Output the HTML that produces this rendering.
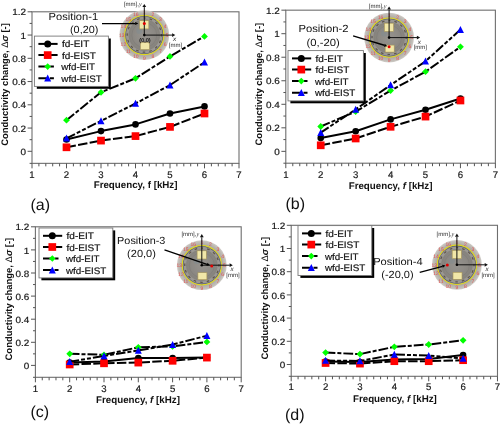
<!DOCTYPE html>
<html><head><meta charset="utf-8"><style>
html,body{margin:0;padding:0;background:#fff;}
svg{display:block;filter:blur(0.3px);}
text{font-family:"Liberation Sans", sans-serif;text-rendering:geometricPrecision;}
.s{stroke:#1a1a1a;stroke-width:0.2px;}
</style></head><body>
<svg width="501" height="425" viewBox="0 0 501 425" font-family='"Liberation Sans", sans-serif'>
<defs>
<radialGradient id="gOuter" cx="0.5" cy="0.5" r="0.5"><stop offset="0.78" stop-color="#a8a49e"/><stop offset="0.84" stop-color="#b3afa9"/><stop offset="0.94" stop-color="#c2beb8"/><stop offset="1" stop-color="#cfccc7"/></radialGradient>
<radialGradient id="gInner" cx="0.5" cy="0.5" r="0.5"><stop offset="0" stop-color="#96938e"/><stop offset="0.6" stop-color="#8d8a85"/><stop offset="1" stop-color="#85827c"/></radialGradient>
</defs>
<rect width="501" height="425" fill="#fff"/>
<rect x="32.00" y="11.80" width="207.00" height="151.55" fill="none" stroke="#6e6e6e" stroke-width="1.1"/>
<line x1="29.60" y1="163.35" x2="32.00" y2="163.35" stroke="#555" stroke-width="1"/>
<line x1="27.60" y1="151.30" x2="32.00" y2="151.30" stroke="#555" stroke-width="1"/>
<line x1="29.60" y1="139.68" x2="32.00" y2="139.68" stroke="#555" stroke-width="1"/>
<line x1="27.60" y1="128.05" x2="32.00" y2="128.05" stroke="#555" stroke-width="1"/>
<line x1="29.60" y1="116.43" x2="32.00" y2="116.43" stroke="#555" stroke-width="1"/>
<line x1="27.60" y1="104.80" x2="32.00" y2="104.80" stroke="#555" stroke-width="1"/>
<line x1="29.60" y1="93.18" x2="32.00" y2="93.18" stroke="#555" stroke-width="1"/>
<line x1="27.60" y1="81.55" x2="32.00" y2="81.55" stroke="#555" stroke-width="1"/>
<line x1="29.60" y1="69.93" x2="32.00" y2="69.93" stroke="#555" stroke-width="1"/>
<line x1="27.60" y1="58.30" x2="32.00" y2="58.30" stroke="#555" stroke-width="1"/>
<line x1="29.60" y1="46.68" x2="32.00" y2="46.68" stroke="#555" stroke-width="1"/>
<line x1="27.60" y1="35.05" x2="32.00" y2="35.05" stroke="#555" stroke-width="1"/>
<line x1="29.60" y1="23.42" x2="32.00" y2="23.42" stroke="#555" stroke-width="1"/>
<line x1="27.60" y1="11.80" x2="32.00" y2="11.80" stroke="#555" stroke-width="1"/>
<text x="26.00" y="154.95" font-size="9.1" fill="#1a1a1a" class="s" text-anchor="end" textLength="5.51" lengthAdjust="spacingAndGlyphs">0</text>
<text x="26.00" y="131.70" font-size="9.1" fill="#1a1a1a" class="s" text-anchor="end" textLength="13.79" lengthAdjust="spacingAndGlyphs">0.2</text>
<text x="26.00" y="108.45" font-size="9.1" fill="#1a1a1a" class="s" text-anchor="end" textLength="13.79" lengthAdjust="spacingAndGlyphs">0.4</text>
<text x="26.00" y="85.20" font-size="9.1" fill="#1a1a1a" class="s" text-anchor="end" textLength="13.79" lengthAdjust="spacingAndGlyphs">0.6</text>
<text x="26.00" y="61.95" font-size="9.1" fill="#1a1a1a" class="s" text-anchor="end" textLength="13.79" lengthAdjust="spacingAndGlyphs">0.8</text>
<text x="26.00" y="38.70" font-size="9.1" fill="#1a1a1a" class="s" text-anchor="end" textLength="5.51" lengthAdjust="spacingAndGlyphs">1</text>
<text x="26.00" y="15.45" font-size="9.1" fill="#1a1a1a" class="s" text-anchor="end" textLength="13.79" lengthAdjust="spacingAndGlyphs">1.2</text>
<line x1="32.00" y1="163.35" x2="32.00" y2="168.35" stroke="#555" stroke-width="1"/>
<line x1="38.90" y1="163.35" x2="38.90" y2="166.35" stroke="#555" stroke-width="1"/>
<line x1="45.80" y1="163.35" x2="45.80" y2="166.35" stroke="#555" stroke-width="1"/>
<line x1="52.70" y1="163.35" x2="52.70" y2="166.35" stroke="#555" stroke-width="1"/>
<line x1="59.60" y1="163.35" x2="59.60" y2="166.35" stroke="#555" stroke-width="1"/>
<line x1="66.50" y1="163.35" x2="66.50" y2="168.35" stroke="#555" stroke-width="1"/>
<line x1="73.40" y1="163.35" x2="73.40" y2="166.35" stroke="#555" stroke-width="1"/>
<line x1="80.30" y1="163.35" x2="80.30" y2="166.35" stroke="#555" stroke-width="1"/>
<line x1="87.20" y1="163.35" x2="87.20" y2="166.35" stroke="#555" stroke-width="1"/>
<line x1="94.10" y1="163.35" x2="94.10" y2="166.35" stroke="#555" stroke-width="1"/>
<line x1="101.00" y1="163.35" x2="101.00" y2="168.35" stroke="#555" stroke-width="1"/>
<line x1="107.90" y1="163.35" x2="107.90" y2="166.35" stroke="#555" stroke-width="1"/>
<line x1="114.80" y1="163.35" x2="114.80" y2="166.35" stroke="#555" stroke-width="1"/>
<line x1="121.70" y1="163.35" x2="121.70" y2="166.35" stroke="#555" stroke-width="1"/>
<line x1="128.60" y1="163.35" x2="128.60" y2="166.35" stroke="#555" stroke-width="1"/>
<line x1="135.50" y1="163.35" x2="135.50" y2="168.35" stroke="#555" stroke-width="1"/>
<line x1="142.40" y1="163.35" x2="142.40" y2="166.35" stroke="#555" stroke-width="1"/>
<line x1="149.30" y1="163.35" x2="149.30" y2="166.35" stroke="#555" stroke-width="1"/>
<line x1="156.20" y1="163.35" x2="156.20" y2="166.35" stroke="#555" stroke-width="1"/>
<line x1="163.10" y1="163.35" x2="163.10" y2="166.35" stroke="#555" stroke-width="1"/>
<line x1="170.00" y1="163.35" x2="170.00" y2="168.35" stroke="#555" stroke-width="1"/>
<line x1="176.90" y1="163.35" x2="176.90" y2="166.35" stroke="#555" stroke-width="1"/>
<line x1="183.80" y1="163.35" x2="183.80" y2="166.35" stroke="#555" stroke-width="1"/>
<line x1="190.70" y1="163.35" x2="190.70" y2="166.35" stroke="#555" stroke-width="1"/>
<line x1="197.60" y1="163.35" x2="197.60" y2="166.35" stroke="#555" stroke-width="1"/>
<line x1="204.50" y1="163.35" x2="204.50" y2="168.35" stroke="#555" stroke-width="1"/>
<line x1="211.40" y1="163.35" x2="211.40" y2="166.35" stroke="#555" stroke-width="1"/>
<line x1="218.30" y1="163.35" x2="218.30" y2="166.35" stroke="#555" stroke-width="1"/>
<line x1="225.20" y1="163.35" x2="225.20" y2="166.35" stroke="#555" stroke-width="1"/>
<line x1="232.10" y1="163.35" x2="232.10" y2="166.35" stroke="#555" stroke-width="1"/>
<line x1="239.00" y1="163.35" x2="239.00" y2="168.35" stroke="#555" stroke-width="1"/>
<text x="32.00" y="177.80" font-size="9.6" fill="#1a1a1a" class="s" text-anchor="middle">1</text>
<text x="66.50" y="177.80" font-size="9.6" fill="#1a1a1a" class="s" text-anchor="middle">2</text>
<text x="101.00" y="177.80" font-size="9.6" fill="#1a1a1a" class="s" text-anchor="middle">3</text>
<text x="135.50" y="177.80" font-size="9.6" fill="#1a1a1a" class="s" text-anchor="middle">4</text>
<text x="170.00" y="177.80" font-size="9.6" fill="#1a1a1a" class="s" text-anchor="middle">5</text>
<text x="204.50" y="177.80" font-size="9.6" fill="#1a1a1a" class="s" text-anchor="middle">6</text>
<text x="239.00" y="177.80" font-size="9.6" fill="#1a1a1a" class="s" text-anchor="middle">7</text>
<text x="135.60" y="188.20" font-size="9.75" font-weight="bold" fill="#111" text-anchor="middle">Frequency, <tspan font-style="normal">f</tspan> [kHz]</text>
<text transform="translate(4.90,84.50) rotate(-90)" x="0" y="3.4" font-size="9.45" font-weight="bold" fill="#111" text-anchor="middle">Conductivity change, <tspan font-weight="normal">Δ</tspan><tspan font-style="italic">σ</tspan> [-]</text>
<text x="30.5" y="209.5" font-size="16" fill="#111">(a)</text>
<polyline points="66.50,139.50 101.00,131.10 135.50,124.40 170.00,113.50 204.50,106.40" fill="none" stroke="#000" stroke-width="2.0" stroke-linejoin="round"/>
<circle cx="66.50" cy="139.50" r="3.3" fill="#000"/>
<circle cx="101.00" cy="131.10" r="3.3" fill="#000"/>
<circle cx="135.50" cy="124.40" r="3.3" fill="#000"/>
<circle cx="170.00" cy="113.50" r="3.3" fill="#000"/>
<circle cx="204.50" cy="106.40" r="3.3" fill="#000"/>
<polyline points="66.50,147.30 101.00,140.60 135.50,136.10 170.00,126.90 204.50,113.50" fill="none" stroke="#000" stroke-width="2.0" stroke-linejoin="round" stroke-dasharray="9.5 2.3"/>
<rect x="62.65" y="143.45" width="7.7" height="7.7" fill="#ff0000"/>
<rect x="97.15" y="136.75" width="7.7" height="7.7" fill="#ff0000"/>
<rect x="131.65" y="132.25" width="7.7" height="7.7" fill="#ff0000"/>
<rect x="166.15" y="123.05" width="7.7" height="7.7" fill="#ff0000"/>
<rect x="200.65" y="109.65" width="7.7" height="7.7" fill="#ff0000"/>
<polyline points="66.50,120.20 101.00,92.30 135.50,78.30 170.00,56.40 204.50,36.40" fill="none" stroke="#000" stroke-width="2.0" stroke-linejoin="round" stroke-dasharray="9.8 2 4 2"/>
<polygon points="66.50,116.80 69.90,120.20 66.50,123.60 63.10,120.20" fill="#00ff00"/>
<polygon points="101.00,88.90 104.40,92.30 101.00,95.70 97.60,92.30" fill="#00ff00"/>
<polygon points="135.50,74.90 138.90,78.30 135.50,81.70 132.10,78.30" fill="#00ff00"/>
<polygon points="170.00,53.00 173.40,56.40 170.00,59.80 166.60,56.40" fill="#00ff00"/>
<polygon points="204.50,33.00 207.90,36.40 204.50,39.80 201.10,36.40" fill="#00ff00"/>
<polyline points="66.50,138.30 101.00,120.90 135.50,103.50 170.00,85.10 204.50,62.30" fill="none" stroke="#000" stroke-width="2.0" stroke-linejoin="round" stroke-dasharray="9.5 2 4 2 4 2"/>
<polygon points="66.50,134.60 70.00,141.60 63.00,141.60" fill="#0000ff"/>
<polygon points="101.00,117.20 104.50,124.20 97.50,124.20" fill="#0000ff"/>
<polygon points="135.50,99.80 139.00,106.80 132.00,106.80" fill="#0000ff"/>
<polygon points="170.00,81.40 173.50,88.40 166.50,88.40" fill="#0000ff"/>
<polygon points="204.50,58.60 208.00,65.60 201.00,65.60" fill="#0000ff"/>
<rect x="36.80" y="38.50" width="74.00" height="50.30" fill="#000"/>
<rect x="34.40" y="36.10" width="74.00" height="50.30" fill="#fff" stroke="#777" stroke-width="0.9"/>
<line x1="38.40" y1="43.90" x2="57.60" y2="43.90" stroke="#000" stroke-width="2.0"/>
<circle cx="47.70" cy="43.90" r="3.5" fill="#000"/>
<text x="61.90" y="47.40" font-size="9.4" fill="#111" class="s" textLength="27.4" lengthAdjust="spacingAndGlyphs">fd-EIT</text>
<line x1="38.40" y1="55.10" x2="57.60" y2="55.10" stroke="#000" stroke-width="2.0" stroke-dasharray="9.5 2.3"/>
<rect x="43.85" y="51.25" width="7.7" height="7.7" fill="#ff0000"/>
<text x="61.90" y="58.60" font-size="9.4" fill="#111" class="s" textLength="33.9" lengthAdjust="spacingAndGlyphs">fd-EIST</text>
<line x1="38.40" y1="66.60" x2="53.90" y2="66.60" stroke="#000" stroke-width="2.0" stroke-dasharray="9.8 2 4 2"/>
<polygon points="47.70,63.30 51.00,66.60 47.70,69.90 44.40,66.60" fill="#00ff00"/>
<text x="61.30" y="70.10" font-size="9.4" fill="#111" class="s" textLength="33.7" lengthAdjust="spacingAndGlyphs">wfd-EIT</text>
<line x1="38.40" y1="78.20" x2="53.90" y2="78.20" stroke="#000" stroke-width="2.0" stroke-dasharray="9.5 2 4 2 4 2"/>
<polygon points="47.70,74.50 51.20,81.50 44.20,81.50" fill="#0000ff"/>
<text x="61.30" y="81.70" font-size="9.4" fill="#111" class="s" textLength="40.4" lengthAdjust="spacingAndGlyphs">wfd-EIST</text>
<rect x="285.80" y="10.17" width="209.58" height="153.03" fill="none" stroke="#6e6e6e" stroke-width="1.1"/>
<line x1="283.40" y1="163.20" x2="285.80" y2="163.20" stroke="#555" stroke-width="1"/>
<line x1="281.40" y1="151.35" x2="285.80" y2="151.35" stroke="#555" stroke-width="1"/>
<line x1="283.40" y1="139.58" x2="285.80" y2="139.58" stroke="#555" stroke-width="1"/>
<line x1="281.40" y1="127.82" x2="285.80" y2="127.82" stroke="#555" stroke-width="1"/>
<line x1="283.40" y1="116.05" x2="285.80" y2="116.05" stroke="#555" stroke-width="1"/>
<line x1="281.40" y1="104.29" x2="285.80" y2="104.29" stroke="#555" stroke-width="1"/>
<line x1="283.40" y1="92.52" x2="285.80" y2="92.52" stroke="#555" stroke-width="1"/>
<line x1="281.40" y1="80.76" x2="285.80" y2="80.76" stroke="#555" stroke-width="1"/>
<line x1="283.40" y1="68.99" x2="285.80" y2="68.99" stroke="#555" stroke-width="1"/>
<line x1="281.40" y1="57.23" x2="285.80" y2="57.23" stroke="#555" stroke-width="1"/>
<line x1="283.40" y1="45.46" x2="285.80" y2="45.46" stroke="#555" stroke-width="1"/>
<line x1="281.40" y1="33.70" x2="285.80" y2="33.70" stroke="#555" stroke-width="1"/>
<line x1="283.40" y1="21.93" x2="285.80" y2="21.93" stroke="#555" stroke-width="1"/>
<line x1="281.40" y1="10.17" x2="285.80" y2="10.17" stroke="#555" stroke-width="1"/>
<text x="279.80" y="155.00" font-size="9.1" fill="#1a1a1a" class="s" text-anchor="end" textLength="5.51" lengthAdjust="spacingAndGlyphs">0</text>
<text x="279.80" y="131.47" font-size="9.1" fill="#1a1a1a" class="s" text-anchor="end" textLength="13.79" lengthAdjust="spacingAndGlyphs">0.2</text>
<text x="279.80" y="107.94" font-size="9.1" fill="#1a1a1a" class="s" text-anchor="end" textLength="13.79" lengthAdjust="spacingAndGlyphs">0.4</text>
<text x="279.80" y="84.41" font-size="9.1" fill="#1a1a1a" class="s" text-anchor="end" textLength="13.79" lengthAdjust="spacingAndGlyphs">0.6</text>
<text x="279.80" y="60.88" font-size="9.1" fill="#1a1a1a" class="s" text-anchor="end" textLength="13.79" lengthAdjust="spacingAndGlyphs">0.8</text>
<text x="279.80" y="37.35" font-size="9.1" fill="#1a1a1a" class="s" text-anchor="end" textLength="5.51" lengthAdjust="spacingAndGlyphs">1</text>
<text x="279.80" y="13.82" font-size="9.1" fill="#1a1a1a" class="s" text-anchor="end" textLength="13.79" lengthAdjust="spacingAndGlyphs">1.2</text>
<line x1="285.80" y1="163.20" x2="285.80" y2="168.20" stroke="#555" stroke-width="1"/>
<line x1="292.79" y1="163.20" x2="292.79" y2="166.20" stroke="#555" stroke-width="1"/>
<line x1="299.77" y1="163.20" x2="299.77" y2="166.20" stroke="#555" stroke-width="1"/>
<line x1="306.76" y1="163.20" x2="306.76" y2="166.20" stroke="#555" stroke-width="1"/>
<line x1="313.74" y1="163.20" x2="313.74" y2="166.20" stroke="#555" stroke-width="1"/>
<line x1="320.73" y1="163.20" x2="320.73" y2="168.20" stroke="#555" stroke-width="1"/>
<line x1="327.72" y1="163.20" x2="327.72" y2="166.20" stroke="#555" stroke-width="1"/>
<line x1="334.70" y1="163.20" x2="334.70" y2="166.20" stroke="#555" stroke-width="1"/>
<line x1="341.69" y1="163.20" x2="341.69" y2="166.20" stroke="#555" stroke-width="1"/>
<line x1="348.67" y1="163.20" x2="348.67" y2="166.20" stroke="#555" stroke-width="1"/>
<line x1="355.66" y1="163.20" x2="355.66" y2="168.20" stroke="#555" stroke-width="1"/>
<line x1="362.65" y1="163.20" x2="362.65" y2="166.20" stroke="#555" stroke-width="1"/>
<line x1="369.63" y1="163.20" x2="369.63" y2="166.20" stroke="#555" stroke-width="1"/>
<line x1="376.62" y1="163.20" x2="376.62" y2="166.20" stroke="#555" stroke-width="1"/>
<line x1="383.60" y1="163.20" x2="383.60" y2="166.20" stroke="#555" stroke-width="1"/>
<line x1="390.59" y1="163.20" x2="390.59" y2="168.20" stroke="#555" stroke-width="1"/>
<line x1="397.58" y1="163.20" x2="397.58" y2="166.20" stroke="#555" stroke-width="1"/>
<line x1="404.56" y1="163.20" x2="404.56" y2="166.20" stroke="#555" stroke-width="1"/>
<line x1="411.55" y1="163.20" x2="411.55" y2="166.20" stroke="#555" stroke-width="1"/>
<line x1="418.53" y1="163.20" x2="418.53" y2="166.20" stroke="#555" stroke-width="1"/>
<line x1="425.52" y1="163.20" x2="425.52" y2="168.20" stroke="#555" stroke-width="1"/>
<line x1="432.51" y1="163.20" x2="432.51" y2="166.20" stroke="#555" stroke-width="1"/>
<line x1="439.49" y1="163.20" x2="439.49" y2="166.20" stroke="#555" stroke-width="1"/>
<line x1="446.48" y1="163.20" x2="446.48" y2="166.20" stroke="#555" stroke-width="1"/>
<line x1="453.46" y1="163.20" x2="453.46" y2="166.20" stroke="#555" stroke-width="1"/>
<line x1="460.45" y1="163.20" x2="460.45" y2="168.20" stroke="#555" stroke-width="1"/>
<line x1="467.44" y1="163.20" x2="467.44" y2="166.20" stroke="#555" stroke-width="1"/>
<line x1="474.42" y1="163.20" x2="474.42" y2="166.20" stroke="#555" stroke-width="1"/>
<line x1="481.41" y1="163.20" x2="481.41" y2="166.20" stroke="#555" stroke-width="1"/>
<line x1="488.39" y1="163.20" x2="488.39" y2="166.20" stroke="#555" stroke-width="1"/>
<line x1="495.38" y1="163.20" x2="495.38" y2="168.20" stroke="#555" stroke-width="1"/>
<text x="285.80" y="177.80" font-size="9.6" fill="#1a1a1a" class="s" text-anchor="middle">1</text>
<text x="320.73" y="177.80" font-size="9.6" fill="#1a1a1a" class="s" text-anchor="middle">2</text>
<text x="355.66" y="177.80" font-size="9.6" fill="#1a1a1a" class="s" text-anchor="middle">3</text>
<text x="390.59" y="177.80" font-size="9.6" fill="#1a1a1a" class="s" text-anchor="middle">4</text>
<text x="425.52" y="177.80" font-size="9.6" fill="#1a1a1a" class="s" text-anchor="middle">5</text>
<text x="460.45" y="177.80" font-size="9.6" fill="#1a1a1a" class="s" text-anchor="middle">6</text>
<text x="495.38" y="177.80" font-size="9.6" fill="#1a1a1a" class="s" text-anchor="middle">7</text>
<text x="390.60" y="189.10" font-size="9.75" font-weight="bold" fill="#111" text-anchor="middle">Frequency, <tspan font-style="italic">f</tspan> [kHz]</text>
<text transform="translate(258.30,84.10) rotate(-90)" x="0" y="3.4" font-size="9.45" font-weight="bold" fill="#111" text-anchor="middle">Conductivity change, <tspan font-weight="normal">Δ</tspan><tspan font-style="italic">σ</tspan> [-]</text>
<text x="285.5" y="209.0" font-size="16" fill="#111">(b)</text>
<polyline points="320.73,138.10 355.66,131.30 390.59,119.40 425.52,109.80 460.45,98.50" fill="none" stroke="#000" stroke-width="2.0" stroke-linejoin="round"/>
<circle cx="320.73" cy="138.10" r="3.3" fill="#000"/>
<circle cx="355.66" cy="131.30" r="3.3" fill="#000"/>
<circle cx="390.59" cy="119.40" r="3.3" fill="#000"/>
<circle cx="425.52" cy="109.80" r="3.3" fill="#000"/>
<circle cx="460.45" cy="98.50" r="3.3" fill="#000"/>
<polyline points="320.73,145.30 355.66,138.50 390.59,126.80 425.52,116.60 460.45,100.50" fill="none" stroke="#000" stroke-width="2.0" stroke-linejoin="round" stroke-dasharray="9.5 2.3"/>
<rect x="316.88" y="141.45" width="7.7" height="7.7" fill="#ff0000"/>
<rect x="351.81" y="134.65" width="7.7" height="7.7" fill="#ff0000"/>
<rect x="386.74" y="122.95" width="7.7" height="7.7" fill="#ff0000"/>
<rect x="421.67" y="112.75" width="7.7" height="7.7" fill="#ff0000"/>
<rect x="456.60" y="96.65" width="7.7" height="7.7" fill="#ff0000"/>
<polyline points="320.73,126.50 355.66,111.60 390.59,90.60 425.52,71.70 460.45,46.80" fill="none" stroke="#000" stroke-width="2.0" stroke-linejoin="round" stroke-dasharray="9.8 2 4 2"/>
<polygon points="320.73,123.10 324.13,126.50 320.73,129.90 317.33,126.50" fill="#00ff00"/>
<polygon points="355.66,108.20 359.06,111.60 355.66,115.00 352.26,111.60" fill="#00ff00"/>
<polygon points="390.59,87.20 393.99,90.60 390.59,94.00 387.19,90.60" fill="#00ff00"/>
<polygon points="425.52,68.30 428.92,71.70 425.52,75.10 422.12,71.70" fill="#00ff00"/>
<polygon points="460.45,43.40 463.85,46.80 460.45,50.20 457.05,46.80" fill="#00ff00"/>
<polyline points="320.73,132.60 355.66,109.40 390.59,85.00 425.52,61.30 460.45,29.60" fill="none" stroke="#000" stroke-width="2.0" stroke-linejoin="round" stroke-dasharray="9.5 2 4 2 4 2"/>
<polygon points="320.73,128.90 324.23,135.90 317.23,135.90" fill="#0000ff"/>
<polygon points="355.66,105.70 359.16,112.70 352.16,112.70" fill="#0000ff"/>
<polygon points="390.59,81.30 394.09,88.30 387.09,88.30" fill="#0000ff"/>
<polygon points="425.52,57.60 429.02,64.60 422.02,64.60" fill="#0000ff"/>
<polygon points="460.45,25.90 463.95,32.90 456.95,32.90" fill="#0000ff"/>
<rect x="290.40" y="53.00" width="75.40" height="50.30" fill="#000"/>
<rect x="288.00" y="50.60" width="75.40" height="50.30" fill="#fff" stroke="#777" stroke-width="0.9"/>
<line x1="292.00" y1="58.40" x2="311.20" y2="58.40" stroke="#000" stroke-width="2.0"/>
<circle cx="301.30" cy="58.40" r="3.5" fill="#000"/>
<text x="315.50" y="61.90" font-size="9.4" fill="#111" class="s" textLength="27.4" lengthAdjust="spacingAndGlyphs">fd-EIT</text>
<line x1="292.00" y1="69.60" x2="311.20" y2="69.60" stroke="#000" stroke-width="2.0" stroke-dasharray="9.5 2.3"/>
<rect x="297.45" y="65.75" width="7.7" height="7.7" fill="#ff0000"/>
<text x="315.50" y="73.10" font-size="9.4" fill="#111" class="s" textLength="33.9" lengthAdjust="spacingAndGlyphs">fd-EIST</text>
<line x1="292.00" y1="81.10" x2="307.50" y2="81.10" stroke="#000" stroke-width="2.0" stroke-dasharray="9.8 2 4 2"/>
<polygon points="301.30,77.80 304.60,81.10 301.30,84.40 298.00,81.10" fill="#00ff00"/>
<text x="314.90" y="84.60" font-size="9.4" fill="#111" class="s" textLength="33.7" lengthAdjust="spacingAndGlyphs">wfd-EIT</text>
<line x1="292.00" y1="92.70" x2="307.50" y2="92.70" stroke="#000" stroke-width="2.0" stroke-dasharray="9.5 2 4 2 4 2"/>
<polygon points="301.30,89.00 304.80,96.00 297.80,96.00" fill="#0000ff"/>
<text x="314.90" y="96.20" font-size="9.4" fill="#111" class="s" textLength="40.4" lengthAdjust="spacingAndGlyphs">wfd-EIST</text>
<rect x="35.40" y="226.80" width="205.80" height="150.50" fill="none" stroke="#6e6e6e" stroke-width="1.1"/>
<line x1="33.00" y1="377.30" x2="35.40" y2="377.30" stroke="#555" stroke-width="1"/>
<line x1="31.00" y1="365.40" x2="35.40" y2="365.40" stroke="#555" stroke-width="1"/>
<line x1="33.00" y1="353.85" x2="35.40" y2="353.85" stroke="#555" stroke-width="1"/>
<line x1="31.00" y1="342.30" x2="35.40" y2="342.30" stroke="#555" stroke-width="1"/>
<line x1="33.00" y1="330.75" x2="35.40" y2="330.75" stroke="#555" stroke-width="1"/>
<line x1="31.00" y1="319.20" x2="35.40" y2="319.20" stroke="#555" stroke-width="1"/>
<line x1="33.00" y1="307.65" x2="35.40" y2="307.65" stroke="#555" stroke-width="1"/>
<line x1="31.00" y1="296.10" x2="35.40" y2="296.10" stroke="#555" stroke-width="1"/>
<line x1="33.00" y1="284.55" x2="35.40" y2="284.55" stroke="#555" stroke-width="1"/>
<line x1="31.00" y1="273.00" x2="35.40" y2="273.00" stroke="#555" stroke-width="1"/>
<line x1="33.00" y1="261.45" x2="35.40" y2="261.45" stroke="#555" stroke-width="1"/>
<line x1="31.00" y1="249.90" x2="35.40" y2="249.90" stroke="#555" stroke-width="1"/>
<line x1="33.00" y1="238.35" x2="35.40" y2="238.35" stroke="#555" stroke-width="1"/>
<line x1="31.00" y1="226.80" x2="35.40" y2="226.80" stroke="#555" stroke-width="1"/>
<text x="29.40" y="369.05" font-size="9.1" fill="#1a1a1a" class="s" text-anchor="end" textLength="5.51" lengthAdjust="spacingAndGlyphs">0</text>
<text x="29.40" y="345.95" font-size="9.1" fill="#1a1a1a" class="s" text-anchor="end" textLength="13.79" lengthAdjust="spacingAndGlyphs">0.2</text>
<text x="29.40" y="322.85" font-size="9.1" fill="#1a1a1a" class="s" text-anchor="end" textLength="13.79" lengthAdjust="spacingAndGlyphs">0.4</text>
<text x="29.40" y="299.75" font-size="9.1" fill="#1a1a1a" class="s" text-anchor="end" textLength="13.79" lengthAdjust="spacingAndGlyphs">0.6</text>
<text x="29.40" y="276.65" font-size="9.1" fill="#1a1a1a" class="s" text-anchor="end" textLength="13.79" lengthAdjust="spacingAndGlyphs">0.8</text>
<text x="29.40" y="253.55" font-size="9.1" fill="#1a1a1a" class="s" text-anchor="end" textLength="5.51" lengthAdjust="spacingAndGlyphs">1</text>
<text x="29.40" y="230.45" font-size="9.1" fill="#1a1a1a" class="s" text-anchor="end" textLength="13.79" lengthAdjust="spacingAndGlyphs">1.2</text>
<line x1="35.40" y1="377.30" x2="35.40" y2="382.30" stroke="#555" stroke-width="1"/>
<line x1="42.26" y1="377.30" x2="42.26" y2="380.30" stroke="#555" stroke-width="1"/>
<line x1="49.12" y1="377.30" x2="49.12" y2="380.30" stroke="#555" stroke-width="1"/>
<line x1="55.98" y1="377.30" x2="55.98" y2="380.30" stroke="#555" stroke-width="1"/>
<line x1="62.84" y1="377.30" x2="62.84" y2="380.30" stroke="#555" stroke-width="1"/>
<line x1="69.70" y1="377.30" x2="69.70" y2="382.30" stroke="#555" stroke-width="1"/>
<line x1="76.56" y1="377.30" x2="76.56" y2="380.30" stroke="#555" stroke-width="1"/>
<line x1="83.42" y1="377.30" x2="83.42" y2="380.30" stroke="#555" stroke-width="1"/>
<line x1="90.28" y1="377.30" x2="90.28" y2="380.30" stroke="#555" stroke-width="1"/>
<line x1="97.14" y1="377.30" x2="97.14" y2="380.30" stroke="#555" stroke-width="1"/>
<line x1="104.00" y1="377.30" x2="104.00" y2="382.30" stroke="#555" stroke-width="1"/>
<line x1="110.86" y1="377.30" x2="110.86" y2="380.30" stroke="#555" stroke-width="1"/>
<line x1="117.72" y1="377.30" x2="117.72" y2="380.30" stroke="#555" stroke-width="1"/>
<line x1="124.58" y1="377.30" x2="124.58" y2="380.30" stroke="#555" stroke-width="1"/>
<line x1="131.44" y1="377.30" x2="131.44" y2="380.30" stroke="#555" stroke-width="1"/>
<line x1="138.30" y1="377.30" x2="138.30" y2="382.30" stroke="#555" stroke-width="1"/>
<line x1="145.16" y1="377.30" x2="145.16" y2="380.30" stroke="#555" stroke-width="1"/>
<line x1="152.02" y1="377.30" x2="152.02" y2="380.30" stroke="#555" stroke-width="1"/>
<line x1="158.88" y1="377.30" x2="158.88" y2="380.30" stroke="#555" stroke-width="1"/>
<line x1="165.74" y1="377.30" x2="165.74" y2="380.30" stroke="#555" stroke-width="1"/>
<line x1="172.60" y1="377.30" x2="172.60" y2="382.30" stroke="#555" stroke-width="1"/>
<line x1="179.46" y1="377.30" x2="179.46" y2="380.30" stroke="#555" stroke-width="1"/>
<line x1="186.32" y1="377.30" x2="186.32" y2="380.30" stroke="#555" stroke-width="1"/>
<line x1="193.18" y1="377.30" x2="193.18" y2="380.30" stroke="#555" stroke-width="1"/>
<line x1="200.04" y1="377.30" x2="200.04" y2="380.30" stroke="#555" stroke-width="1"/>
<line x1="206.90" y1="377.30" x2="206.90" y2="382.30" stroke="#555" stroke-width="1"/>
<line x1="213.76" y1="377.30" x2="213.76" y2="380.30" stroke="#555" stroke-width="1"/>
<line x1="220.62" y1="377.30" x2="220.62" y2="380.30" stroke="#555" stroke-width="1"/>
<line x1="227.48" y1="377.30" x2="227.48" y2="380.30" stroke="#555" stroke-width="1"/>
<line x1="234.34" y1="377.30" x2="234.34" y2="380.30" stroke="#555" stroke-width="1"/>
<line x1="241.20" y1="377.30" x2="241.20" y2="382.30" stroke="#555" stroke-width="1"/>
<text x="35.40" y="392.20" font-size="9.6" fill="#1a1a1a" class="s" text-anchor="middle">1</text>
<text x="69.70" y="392.20" font-size="9.6" fill="#1a1a1a" class="s" text-anchor="middle">2</text>
<text x="104.00" y="392.20" font-size="9.6" fill="#1a1a1a" class="s" text-anchor="middle">3</text>
<text x="138.30" y="392.20" font-size="9.6" fill="#1a1a1a" class="s" text-anchor="middle">4</text>
<text x="172.60" y="392.20" font-size="9.6" fill="#1a1a1a" class="s" text-anchor="middle">5</text>
<text x="206.90" y="392.20" font-size="9.6" fill="#1a1a1a" class="s" text-anchor="middle">6</text>
<text x="241.20" y="392.20" font-size="9.6" fill="#1a1a1a" class="s" text-anchor="middle">7</text>
<text x="138.00" y="402.60" font-size="9.75" font-weight="bold" fill="#111" text-anchor="middle">Frequency, <tspan font-style="italic">f</tspan> [kHz]</text>
<text transform="translate(8.30,299.10) rotate(-90)" x="0" y="3.4" font-size="9.45" font-weight="bold" fill="#111" text-anchor="middle">Conductivity change, <tspan font-weight="normal">Δ</tspan><tspan font-style="italic">σ</tspan> [-]</text>
<text x="30.5" y="417.0" font-size="16" fill="#111">(c)</text>
<polyline points="69.70,362.50 104.00,361.50 138.30,358.10 172.60,358.10 206.90,357.50" fill="none" stroke="#000" stroke-width="2.0" stroke-linejoin="round"/>
<circle cx="69.70" cy="362.50" r="3.3" fill="#000"/>
<circle cx="104.00" cy="361.50" r="3.3" fill="#000"/>
<circle cx="138.30" cy="358.10" r="3.3" fill="#000"/>
<circle cx="172.60" cy="358.10" r="3.3" fill="#000"/>
<circle cx="206.90" cy="357.50" r="3.3" fill="#000"/>
<polyline points="69.70,364.50 104.00,363.30 138.30,362.60 172.60,360.80 206.90,357.60" fill="none" stroke="#000" stroke-width="2.0" stroke-linejoin="round" stroke-dasharray="9.5 2.3"/>
<rect x="65.85" y="360.65" width="7.7" height="7.7" fill="#ff0000"/>
<rect x="100.15" y="359.45" width="7.7" height="7.7" fill="#ff0000"/>
<rect x="134.45" y="358.75" width="7.7" height="7.7" fill="#ff0000"/>
<rect x="168.75" y="356.95" width="7.7" height="7.7" fill="#ff0000"/>
<rect x="203.05" y="353.75" width="7.7" height="7.7" fill="#ff0000"/>
<polyline points="69.70,353.80 104.00,354.80 138.30,347.30 172.60,346.40 206.90,341.90" fill="none" stroke="#000" stroke-width="2.0" stroke-linejoin="round" stroke-dasharray="9.8 2 4 2"/>
<polygon points="69.70,350.40 73.10,353.80 69.70,357.20 66.30,353.80" fill="#00ff00"/>
<polygon points="104.00,351.40 107.40,354.80 104.00,358.20 100.60,354.80" fill="#00ff00"/>
<polygon points="138.30,343.90 141.70,347.30 138.30,350.70 134.90,347.30" fill="#00ff00"/>
<polygon points="172.60,343.00 176.00,346.40 172.60,349.80 169.20,346.40" fill="#00ff00"/>
<polygon points="206.90,338.50 210.30,341.90 206.90,345.30 203.50,341.90" fill="#00ff00"/>
<polyline points="69.70,361.70 104.00,356.00 138.30,350.40 172.60,344.60 206.90,335.70" fill="none" stroke="#000" stroke-width="2.0" stroke-linejoin="round" stroke-dasharray="9.5 2 4 2 4 2"/>
<polygon points="69.70,358.00 73.20,365.00 66.20,365.00" fill="#0000ff"/>
<polygon points="104.00,352.30 107.50,359.30 100.50,359.30" fill="#0000ff"/>
<polygon points="138.30,346.70 141.80,353.70 134.80,353.70" fill="#0000ff"/>
<polygon points="172.60,340.90 176.10,347.90 169.10,347.90" fill="#0000ff"/>
<polygon points="206.90,332.00 210.40,339.00 203.40,339.00" fill="#0000ff"/>
<rect x="41.40" y="230.40" width="73.80" height="49.90" fill="#000"/>
<rect x="39.00" y="228.00" width="73.80" height="49.90" fill="#fff" stroke="#777" stroke-width="0.9"/>
<line x1="43.00" y1="235.80" x2="62.20" y2="235.80" stroke="#000" stroke-width="2.0"/>
<circle cx="52.30" cy="235.80" r="3.5" fill="#000"/>
<text x="66.50" y="239.30" font-size="9.4" fill="#111" class="s" textLength="27.4" lengthAdjust="spacingAndGlyphs">fd-EIT</text>
<line x1="43.00" y1="247.00" x2="62.20" y2="247.00" stroke="#000" stroke-width="2.0" stroke-dasharray="9.5 2.3"/>
<rect x="48.45" y="243.15" width="7.7" height="7.7" fill="#ff0000"/>
<text x="66.50" y="250.50" font-size="9.4" fill="#111" class="s" textLength="33.9" lengthAdjust="spacingAndGlyphs">fd-EIST</text>
<line x1="43.00" y1="258.50" x2="58.50" y2="258.50" stroke="#000" stroke-width="2.0" stroke-dasharray="9.8 2 4 2"/>
<polygon points="52.30,255.20 55.60,258.50 52.30,261.80 49.00,258.50" fill="#00ff00"/>
<text x="65.90" y="262.00" font-size="9.4" fill="#111" class="s" textLength="33.7" lengthAdjust="spacingAndGlyphs">wfd-EIT</text>
<line x1="43.00" y1="270.10" x2="58.50" y2="270.10" stroke="#000" stroke-width="2.0" stroke-dasharray="9.5 2 4 2 4 2"/>
<polygon points="52.30,266.40 55.80,273.40 48.80,273.40" fill="#0000ff"/>
<text x="65.90" y="273.60" font-size="9.4" fill="#111" class="s" textLength="40.4" lengthAdjust="spacingAndGlyphs">wfd-EIST</text>
<rect x="291.20" y="225.30" width="206.28" height="151.00" fill="none" stroke="#6e6e6e" stroke-width="1.1"/>
<line x1="288.80" y1="376.30" x2="291.20" y2="376.30" stroke="#555" stroke-width="1"/>
<line x1="286.80" y1="364.50" x2="291.20" y2="364.50" stroke="#555" stroke-width="1"/>
<line x1="288.80" y1="352.90" x2="291.20" y2="352.90" stroke="#555" stroke-width="1"/>
<line x1="286.80" y1="341.30" x2="291.20" y2="341.30" stroke="#555" stroke-width="1"/>
<line x1="288.80" y1="329.70" x2="291.20" y2="329.70" stroke="#555" stroke-width="1"/>
<line x1="286.80" y1="318.10" x2="291.20" y2="318.10" stroke="#555" stroke-width="1"/>
<line x1="288.80" y1="306.50" x2="291.20" y2="306.50" stroke="#555" stroke-width="1"/>
<line x1="286.80" y1="294.90" x2="291.20" y2="294.90" stroke="#555" stroke-width="1"/>
<line x1="288.80" y1="283.30" x2="291.20" y2="283.30" stroke="#555" stroke-width="1"/>
<line x1="286.80" y1="271.70" x2="291.20" y2="271.70" stroke="#555" stroke-width="1"/>
<line x1="288.80" y1="260.10" x2="291.20" y2="260.10" stroke="#555" stroke-width="1"/>
<line x1="286.80" y1="248.50" x2="291.20" y2="248.50" stroke="#555" stroke-width="1"/>
<line x1="288.80" y1="236.90" x2="291.20" y2="236.90" stroke="#555" stroke-width="1"/>
<line x1="286.80" y1="225.30" x2="291.20" y2="225.30" stroke="#555" stroke-width="1"/>
<text x="285.20" y="368.15" font-size="9.1" fill="#1a1a1a" class="s" text-anchor="end" textLength="5.51" lengthAdjust="spacingAndGlyphs">0</text>
<text x="285.20" y="344.95" font-size="9.1" fill="#1a1a1a" class="s" text-anchor="end" textLength="13.79" lengthAdjust="spacingAndGlyphs">0.2</text>
<text x="285.20" y="321.75" font-size="9.1" fill="#1a1a1a" class="s" text-anchor="end" textLength="13.79" lengthAdjust="spacingAndGlyphs">0.4</text>
<text x="285.20" y="298.55" font-size="9.1" fill="#1a1a1a" class="s" text-anchor="end" textLength="13.79" lengthAdjust="spacingAndGlyphs">0.6</text>
<text x="285.20" y="275.35" font-size="9.1" fill="#1a1a1a" class="s" text-anchor="end" textLength="13.79" lengthAdjust="spacingAndGlyphs">0.8</text>
<text x="285.20" y="252.15" font-size="9.1" fill="#1a1a1a" class="s" text-anchor="end" textLength="5.51" lengthAdjust="spacingAndGlyphs">1</text>
<text x="285.20" y="228.95" font-size="9.1" fill="#1a1a1a" class="s" text-anchor="end" textLength="13.79" lengthAdjust="spacingAndGlyphs">1.2</text>
<line x1="291.20" y1="376.30" x2="291.20" y2="381.30" stroke="#555" stroke-width="1"/>
<line x1="298.08" y1="376.30" x2="298.08" y2="379.30" stroke="#555" stroke-width="1"/>
<line x1="304.95" y1="376.30" x2="304.95" y2="379.30" stroke="#555" stroke-width="1"/>
<line x1="311.83" y1="376.30" x2="311.83" y2="379.30" stroke="#555" stroke-width="1"/>
<line x1="318.70" y1="376.30" x2="318.70" y2="379.30" stroke="#555" stroke-width="1"/>
<line x1="325.58" y1="376.30" x2="325.58" y2="381.30" stroke="#555" stroke-width="1"/>
<line x1="332.46" y1="376.30" x2="332.46" y2="379.30" stroke="#555" stroke-width="1"/>
<line x1="339.33" y1="376.30" x2="339.33" y2="379.30" stroke="#555" stroke-width="1"/>
<line x1="346.21" y1="376.30" x2="346.21" y2="379.30" stroke="#555" stroke-width="1"/>
<line x1="353.08" y1="376.30" x2="353.08" y2="379.30" stroke="#555" stroke-width="1"/>
<line x1="359.96" y1="376.30" x2="359.96" y2="381.30" stroke="#555" stroke-width="1"/>
<line x1="366.84" y1="376.30" x2="366.84" y2="379.30" stroke="#555" stroke-width="1"/>
<line x1="373.71" y1="376.30" x2="373.71" y2="379.30" stroke="#555" stroke-width="1"/>
<line x1="380.59" y1="376.30" x2="380.59" y2="379.30" stroke="#555" stroke-width="1"/>
<line x1="387.46" y1="376.30" x2="387.46" y2="379.30" stroke="#555" stroke-width="1"/>
<line x1="394.34" y1="376.30" x2="394.34" y2="381.30" stroke="#555" stroke-width="1"/>
<line x1="401.22" y1="376.30" x2="401.22" y2="379.30" stroke="#555" stroke-width="1"/>
<line x1="408.09" y1="376.30" x2="408.09" y2="379.30" stroke="#555" stroke-width="1"/>
<line x1="414.97" y1="376.30" x2="414.97" y2="379.30" stroke="#555" stroke-width="1"/>
<line x1="421.84" y1="376.30" x2="421.84" y2="379.30" stroke="#555" stroke-width="1"/>
<line x1="428.72" y1="376.30" x2="428.72" y2="381.30" stroke="#555" stroke-width="1"/>
<line x1="435.60" y1="376.30" x2="435.60" y2="379.30" stroke="#555" stroke-width="1"/>
<line x1="442.47" y1="376.30" x2="442.47" y2="379.30" stroke="#555" stroke-width="1"/>
<line x1="449.35" y1="376.30" x2="449.35" y2="379.30" stroke="#555" stroke-width="1"/>
<line x1="456.22" y1="376.30" x2="456.22" y2="379.30" stroke="#555" stroke-width="1"/>
<line x1="463.10" y1="376.30" x2="463.10" y2="381.30" stroke="#555" stroke-width="1"/>
<line x1="469.98" y1="376.30" x2="469.98" y2="379.30" stroke="#555" stroke-width="1"/>
<line x1="476.85" y1="376.30" x2="476.85" y2="379.30" stroke="#555" stroke-width="1"/>
<line x1="483.73" y1="376.30" x2="483.73" y2="379.30" stroke="#555" stroke-width="1"/>
<line x1="490.60" y1="376.30" x2="490.60" y2="379.30" stroke="#555" stroke-width="1"/>
<line x1="497.48" y1="376.30" x2="497.48" y2="381.30" stroke="#555" stroke-width="1"/>
<text x="291.20" y="390.40" font-size="9.6" fill="#1a1a1a" class="s" text-anchor="middle">1</text>
<text x="325.58" y="390.40" font-size="9.6" fill="#1a1a1a" class="s" text-anchor="middle">2</text>
<text x="359.96" y="390.40" font-size="9.6" fill="#1a1a1a" class="s" text-anchor="middle">3</text>
<text x="394.34" y="390.40" font-size="9.6" fill="#1a1a1a" class="s" text-anchor="middle">4</text>
<text x="428.72" y="390.40" font-size="9.6" fill="#1a1a1a" class="s" text-anchor="middle">5</text>
<text x="463.10" y="390.40" font-size="9.6" fill="#1a1a1a" class="s" text-anchor="middle">6</text>
<text x="497.48" y="390.40" font-size="9.6" fill="#1a1a1a" class="s" text-anchor="middle">7</text>
<text x="394.90" y="401.50" font-size="9.75" font-weight="bold" fill="#111" text-anchor="middle">Frequency, <tspan font-style="italic">f</tspan> [kHz]</text>
<text transform="translate(264.70,298.20) rotate(-90)" x="0" y="3.4" font-size="9.45" font-weight="bold" fill="#111" text-anchor="middle">Conductivity change, <tspan font-weight="normal">Δ</tspan><tspan font-style="italic">σ</tspan> [-]</text>
<text x="285.0" y="419.5" font-size="16" fill="#111">(d)</text>
<polyline points="325.58,361.50 359.96,362.00 394.34,359.50 428.72,359.00 463.10,355.00" fill="none" stroke="#000" stroke-width="2.0" stroke-linejoin="round"/>
<circle cx="325.58" cy="361.50" r="3.3" fill="#000"/>
<circle cx="359.96" cy="362.00" r="3.3" fill="#000"/>
<circle cx="394.34" cy="359.50" r="3.3" fill="#000"/>
<circle cx="428.72" cy="359.00" r="3.3" fill="#000"/>
<circle cx="463.10" cy="355.00" r="3.3" fill="#000"/>
<polyline points="325.58,363.00 359.96,363.60 394.34,361.20 428.72,361.20 463.10,360.20" fill="none" stroke="#000" stroke-width="2.0" stroke-linejoin="round" stroke-dasharray="9.5 2.3"/>
<rect x="321.73" y="359.15" width="7.7" height="7.7" fill="#ff0000"/>
<rect x="356.11" y="359.75" width="7.7" height="7.7" fill="#ff0000"/>
<rect x="390.49" y="357.35" width="7.7" height="7.7" fill="#ff0000"/>
<rect x="424.87" y="357.35" width="7.7" height="7.7" fill="#ff0000"/>
<rect x="459.25" y="356.35" width="7.7" height="7.7" fill="#ff0000"/>
<polyline points="325.58,352.60 359.96,354.10 394.34,346.80 428.72,344.50 463.10,340.30" fill="none" stroke="#000" stroke-width="2.0" stroke-linejoin="round" stroke-dasharray="9.8 2 4 2"/>
<polygon points="325.58,349.20 328.98,352.60 325.58,356.00 322.18,352.60" fill="#00ff00"/>
<polygon points="359.96,350.70 363.36,354.10 359.96,357.50 356.56,354.10" fill="#00ff00"/>
<polygon points="394.34,343.40 397.74,346.80 394.34,350.20 390.94,346.80" fill="#00ff00"/>
<polygon points="428.72,341.10 432.12,344.50 428.72,347.90 425.32,344.50" fill="#00ff00"/>
<polygon points="463.10,336.90 466.50,340.30 463.10,343.70 459.70,340.30" fill="#00ff00"/>
<polyline points="325.58,360.50 359.96,361.00 394.34,354.50 428.72,355.60 463.10,358.50" fill="none" stroke="#000" stroke-width="2.0" stroke-linejoin="round" stroke-dasharray="9.5 2 4 2 4 2"/>
<polygon points="325.58,356.80 329.08,363.80 322.08,363.80" fill="#0000ff"/>
<polygon points="359.96,357.30 363.46,364.30 356.46,364.30" fill="#0000ff"/>
<polygon points="394.34,350.80 397.84,357.80 390.84,357.80" fill="#0000ff"/>
<polygon points="428.72,351.90 432.22,358.90 425.22,358.90" fill="#0000ff"/>
<polygon points="463.10,354.80 466.60,361.80 459.60,361.80" fill="#0000ff"/>
<rect x="300.40" y="228.00" width="73.80" height="49.90" fill="#000"/>
<rect x="298.00" y="225.60" width="73.80" height="49.90" fill="#fff" stroke="#777" stroke-width="0.9"/>
<line x1="302.00" y1="233.40" x2="321.20" y2="233.40" stroke="#000" stroke-width="2.0"/>
<circle cx="311.30" cy="233.40" r="3.5" fill="#000"/>
<text x="325.50" y="236.90" font-size="9.4" fill="#111" class="s" textLength="27.4" lengthAdjust="spacingAndGlyphs">fd-EIT</text>
<line x1="302.00" y1="244.60" x2="321.20" y2="244.60" stroke="#000" stroke-width="2.0" stroke-dasharray="9.5 2.3"/>
<rect x="307.45" y="240.75" width="7.7" height="7.7" fill="#ff0000"/>
<text x="325.50" y="248.10" font-size="9.4" fill="#111" class="s" textLength="33.9" lengthAdjust="spacingAndGlyphs">fd-EIST</text>
<line x1="302.00" y1="256.10" x2="317.50" y2="256.10" stroke="#000" stroke-width="2.0" stroke-dasharray="9.8 2 4 2"/>
<polygon points="311.30,252.80 314.60,256.10 311.30,259.40 308.00,256.10" fill="#00ff00"/>
<text x="324.90" y="259.60" font-size="9.4" fill="#111" class="s" textLength="33.7" lengthAdjust="spacingAndGlyphs">wfd-EIT</text>
<line x1="302.00" y1="267.70" x2="317.50" y2="267.70" stroke="#000" stroke-width="2.0" stroke-dasharray="9.5 2 4 2 4 2"/>
<polygon points="311.30,264.00 314.80,271.00 307.80,271.00" fill="#0000ff"/>
<text x="324.90" y="271.20" font-size="9.4" fill="#111" class="s" textLength="40.4" lengthAdjust="spacingAndGlyphs">wfd-EIST</text>
<text x="48.6" y="20.3" font-size="10.3" fill="#111" textLength="49.6" lengthAdjust="spacingAndGlyphs">Position-1</text>
<text x="70.0" y="33.2" font-size="10.3" fill="#111" textLength="28.3" lengthAdjust="spacingAndGlyphs">(0,20)</text>
<g>
<circle cx="144.3" cy="35.1" r="24.9" fill="url(#gOuter)"/>
<circle cx="144.3" cy="35.1" r="19.6" fill="none" stroke="#e0d81a" stroke-width="1.15"/>
<circle cx="144.3" cy="35.1" r="18.95" fill="#50546a"/>
<circle cx="144.3" cy="35.1" r="18.4" fill="#9b9893"/>
<circle cx="144.3" cy="35.1" r="17.1" fill="none" stroke="#5f564c" stroke-width="1.3" stroke-dasharray="2.6 4.115" stroke-dashoffset="1.3" transform="rotate(-90 144.3 35.1)"/>
<circle cx="144.3" cy="35.1" r="15.8" fill="url(#gInner)"/>
<circle cx="144.3" cy="35.1" r="12.5" fill="none" stroke="#7e7b76" stroke-width="0.8" opacity="0.7"/>
<circle cx="139.3" cy="31.1" r="3" fill="#7f8c92" opacity="0.45"/>
<rect x="139.60000000000002" y="20.700000000000003" width="9.2" height="8.2" fill="#f1e7a8" stroke="#a89658" stroke-width="0.6"/>
<rect x="140.4" y="42.6" width="9.0" height="7.0" fill="#f1e7a8" stroke="#a89658" stroke-width="0.6"/>
<text x="144.3" y="14.3" font-size="5.0" fill="#e24a4a" text-anchor="middle" font-family='"Liberation Sans", sans-serif'>1</text>
<text x="152.9" y="16.0" font-size="5.0" fill="#e24a4a" text-anchor="middle" font-family='"Liberation Sans", sans-serif'>2</text>
<text x="160.3" y="20.9" font-size="5.0" fill="#e24a4a" text-anchor="middle" font-family='"Liberation Sans", sans-serif'>3</text>
<text x="165.2" y="28.3" font-size="5.0" fill="#e24a4a" text-anchor="middle" font-family='"Liberation Sans", sans-serif'>4</text>
<text x="166.9" y="36.9" font-size="5.0" fill="#e24a4a" text-anchor="middle" font-family='"Liberation Sans", sans-serif'>5</text>
<text x="165.2" y="45.5" font-size="5.0" fill="#e24a4a" text-anchor="middle" font-family='"Liberation Sans", sans-serif'>6</text>
<text x="160.3" y="52.9" font-size="5.0" fill="#e24a4a" text-anchor="middle" font-family='"Liberation Sans", sans-serif'>7</text>
<text x="152.9" y="57.8" font-size="5.0" fill="#e24a4a" text-anchor="middle" font-family='"Liberation Sans", sans-serif'>8</text>
<text x="144.3" y="59.5" font-size="5.0" fill="#e24a4a" text-anchor="middle" font-family='"Liberation Sans", sans-serif'>9</text>
<text x="135.7" y="57.8" font-size="5.0" fill="#e24a4a" text-anchor="middle" font-family='"Liberation Sans", sans-serif'>10</text>
<text x="128.3" y="52.9" font-size="5.0" fill="#e24a4a" text-anchor="middle" font-family='"Liberation Sans", sans-serif'>11</text>
<text x="123.4" y="45.5" font-size="5.0" fill="#e24a4a" text-anchor="middle" font-family='"Liberation Sans", sans-serif'>12</text>
<text x="121.7" y="36.9" font-size="5.0" fill="#e24a4a" text-anchor="middle" font-family='"Liberation Sans", sans-serif'>13</text>
<text x="123.4" y="28.3" font-size="5.0" fill="#e24a4a" text-anchor="middle" font-family='"Liberation Sans", sans-serif'>14</text>
<text x="128.3" y="20.9" font-size="5.0" fill="#e24a4a" text-anchor="middle" font-family='"Liberation Sans", sans-serif'>15</text>
<text x="135.7" y="16.0" font-size="5.0" fill="#e24a4a" text-anchor="middle" font-family='"Liberation Sans", sans-serif'>16</text>
<line x1="144.3" y1="35.1" x2="144.3" y2="7.100000000000001" stroke="#111" stroke-width="1"/>
<polygon points="144.3,3.900000000000002 146.20000000000002,7.100000000000001 142.4,7.100000000000001" fill="#111"/>
<line x1="144.3" y1="35.1" x2="172.3" y2="35.1" stroke="#111" stroke-width="1"/>
<polygon points="175.3,35.1 172.10000000000002,33.2 172.10000000000002,37.0" fill="#111"/>
<circle cx="144.3" cy="35.1" r="1.3" fill="#000"/>
<text x="141.70000000000002" y="5.900000000000002" font-size="6.0" fill="#2a2a2a" text-anchor="end" font-family="Liberation Serif, serif">[mm],<tspan font-style="italic" font-family="Liberation Serif, serif" font-size="6.2">y</tspan></text>
<text x="174.60000000000002" y="41.300000000000004" font-size="6.4" fill="#222" text-anchor="middle" font-family="Liberation Serif, serif" font-style="italic">x</text>
<text x="175.5" y="46.8" font-size="6.0" fill="#2a2a2a" text-anchor="middle" font-family="Liberation Serif, serif">[mm]</text>
<text x="144.9" y="42.300000000000004" font-size="5.4" fill="#111" text-anchor="middle" font-family='"Liberation Sans", sans-serif' stroke="#111" stroke-width="0.15">(0,0)</text>
<line x1="102.0" y1="23.6" x2="135.20" y2="23.60" stroke="#000" stroke-width="1.35"/>
<polygon points="138.40,23.60 135.20,25.10 135.20,22.10" fill="#000"/>
<circle cx="144.3" cy="23.6" r="1.5" fill="#e00000"/>
</g>
<text x="298.4" y="32.2" font-size="10.3" fill="#111" textLength="50.2" lengthAdjust="spacingAndGlyphs">Position-2</text>
<text x="306.6" y="45.8" font-size="10.3" fill="#111" textLength="33.2" lengthAdjust="spacingAndGlyphs">(0,-20)</text>
<g>
<circle cx="389.1" cy="37.6" r="24.9" fill="url(#gOuter)"/>
<circle cx="389.1" cy="37.6" r="19.6" fill="none" stroke="#e0d81a" stroke-width="1.15"/>
<circle cx="389.1" cy="37.6" r="18.95" fill="#50546a"/>
<circle cx="389.1" cy="37.6" r="18.4" fill="#9b9893"/>
<circle cx="389.1" cy="37.6" r="17.1" fill="none" stroke="#5f564c" stroke-width="1.3" stroke-dasharray="2.6 4.115" stroke-dashoffset="1.3" transform="rotate(-90 389.1 37.6)"/>
<circle cx="389.1" cy="37.6" r="15.8" fill="url(#gInner)"/>
<circle cx="389.1" cy="37.6" r="12.5" fill="none" stroke="#7e7b76" stroke-width="0.8" opacity="0.7"/>
<circle cx="384.1" cy="33.6" r="3" fill="#7f8c92" opacity="0.45"/>
<rect x="384.40000000000003" y="23.200000000000003" width="9.2" height="8.2" fill="#f1e7a8" stroke="#a89658" stroke-width="0.6"/>
<rect x="385.20000000000005" y="45.1" width="9.0" height="7.0" fill="#f1e7a8" stroke="#a89658" stroke-width="0.6"/>
<text x="389.1" y="16.8" font-size="5.0" fill="#e24a4a" text-anchor="middle" font-family='"Liberation Sans", sans-serif'>1</text>
<text x="397.7" y="18.5" font-size="5.0" fill="#e24a4a" text-anchor="middle" font-family='"Liberation Sans", sans-serif'>2</text>
<text x="405.1" y="23.4" font-size="5.0" fill="#e24a4a" text-anchor="middle" font-family='"Liberation Sans", sans-serif'>3</text>
<text x="410.0" y="30.8" font-size="5.0" fill="#e24a4a" text-anchor="middle" font-family='"Liberation Sans", sans-serif'>4</text>
<text x="411.7" y="39.4" font-size="5.0" fill="#e24a4a" text-anchor="middle" font-family='"Liberation Sans", sans-serif'>5</text>
<text x="410.0" y="48.0" font-size="5.0" fill="#e24a4a" text-anchor="middle" font-family='"Liberation Sans", sans-serif'>6</text>
<text x="405.1" y="55.4" font-size="5.0" fill="#e24a4a" text-anchor="middle" font-family='"Liberation Sans", sans-serif'>7</text>
<text x="397.7" y="60.3" font-size="5.0" fill="#e24a4a" text-anchor="middle" font-family='"Liberation Sans", sans-serif'>8</text>
<text x="389.1" y="62.0" font-size="5.0" fill="#e24a4a" text-anchor="middle" font-family='"Liberation Sans", sans-serif'>9</text>
<text x="380.5" y="60.3" font-size="5.0" fill="#e24a4a" text-anchor="middle" font-family='"Liberation Sans", sans-serif'>10</text>
<text x="373.1" y="55.4" font-size="5.0" fill="#e24a4a" text-anchor="middle" font-family='"Liberation Sans", sans-serif'>11</text>
<text x="368.2" y="48.0" font-size="5.0" fill="#e24a4a" text-anchor="middle" font-family='"Liberation Sans", sans-serif'>12</text>
<text x="366.5" y="39.4" font-size="5.0" fill="#e24a4a" text-anchor="middle" font-family='"Liberation Sans", sans-serif'>13</text>
<text x="368.2" y="30.8" font-size="5.0" fill="#e24a4a" text-anchor="middle" font-family='"Liberation Sans", sans-serif'>14</text>
<text x="373.1" y="23.4" font-size="5.0" fill="#e24a4a" text-anchor="middle" font-family='"Liberation Sans", sans-serif'>15</text>
<text x="380.5" y="18.5" font-size="5.0" fill="#e24a4a" text-anchor="middle" font-family='"Liberation Sans", sans-serif'>16</text>
<line x1="389.1" y1="37.6" x2="389.1" y2="9.600000000000001" stroke="#111" stroke-width="1"/>
<polygon points="389.1,6.400000000000002 391.0,9.600000000000001 387.20000000000005,9.600000000000001" fill="#111"/>
<line x1="389.1" y1="37.6" x2="417.1" y2="37.6" stroke="#111" stroke-width="1"/>
<polygon points="420.1,37.6 416.90000000000003,35.7 416.90000000000003,39.5" fill="#111"/>
<circle cx="389.1" cy="37.6" r="1.3" fill="#000"/>
<text x="386.5" y="8.400000000000002" font-size="6.0" fill="#2a2a2a" text-anchor="end" font-family="Liberation Serif, serif">[mm],<tspan font-style="italic" font-family="Liberation Serif, serif" font-size="6.2">y</tspan></text>
<text x="419.40000000000003" y="43.800000000000004" font-size="6.4" fill="#222" text-anchor="middle" font-family="Liberation Serif, serif" font-style="italic">x</text>
<text x="420.3" y="49.3" font-size="6.0" fill="#2a2a2a" text-anchor="middle" font-family="Liberation Serif, serif">[mm]</text>
<line x1="353.1" y1="35.8" x2="384.31" y2="45.25" stroke="#000" stroke-width="1.35"/>
<polygon points="387.38,46.18 383.88,46.69 384.75,43.82" fill="#000"/>
<circle cx="389.1" cy="46.7" r="1.5" fill="#e00000"/>
</g>
<text x="117.1" y="243.9" font-size="10.3" fill="#111" textLength="48.3" lengthAdjust="spacingAndGlyphs">Position-3</text>
<text x="127.1" y="257.0" font-size="10.3" fill="#111" textLength="28.8" lengthAdjust="spacingAndGlyphs">(20,0)</text>
<g>
<circle cx="201.8" cy="265.2" r="24.9" fill="url(#gOuter)"/>
<circle cx="201.8" cy="265.2" r="19.6" fill="none" stroke="#e0d81a" stroke-width="1.15"/>
<circle cx="201.8" cy="265.2" r="18.95" fill="#50546a"/>
<circle cx="201.8" cy="265.2" r="18.4" fill="#9b9893"/>
<circle cx="201.8" cy="265.2" r="17.1" fill="none" stroke="#5f564c" stroke-width="1.3" stroke-dasharray="2.6 4.115" stroke-dashoffset="1.3" transform="rotate(-90 201.8 265.2)"/>
<circle cx="201.8" cy="265.2" r="15.8" fill="url(#gInner)"/>
<circle cx="201.8" cy="265.2" r="12.5" fill="none" stroke="#7e7b76" stroke-width="0.8" opacity="0.7"/>
<circle cx="196.8" cy="261.2" r="3" fill="#7f8c92" opacity="0.45"/>
<rect x="197.10000000000002" y="250.79999999999998" width="9.2" height="8.2" fill="#f1e7a8" stroke="#a89658" stroke-width="0.6"/>
<rect x="197.9" y="272.7" width="9.0" height="7.0" fill="#f1e7a8" stroke="#a89658" stroke-width="0.6"/>
<text x="201.8" y="244.4" font-size="5.0" fill="#e24a4a" text-anchor="middle" font-family='"Liberation Sans", sans-serif'>1</text>
<text x="210.4" y="246.1" font-size="5.0" fill="#e24a4a" text-anchor="middle" font-family='"Liberation Sans", sans-serif'>2</text>
<text x="217.8" y="251.0" font-size="5.0" fill="#e24a4a" text-anchor="middle" font-family='"Liberation Sans", sans-serif'>3</text>
<text x="222.7" y="258.4" font-size="5.0" fill="#e24a4a" text-anchor="middle" font-family='"Liberation Sans", sans-serif'>4</text>
<text x="224.4" y="267.0" font-size="5.0" fill="#e24a4a" text-anchor="middle" font-family='"Liberation Sans", sans-serif'>5</text>
<text x="222.7" y="275.6" font-size="5.0" fill="#e24a4a" text-anchor="middle" font-family='"Liberation Sans", sans-serif'>6</text>
<text x="217.8" y="283.0" font-size="5.0" fill="#e24a4a" text-anchor="middle" font-family='"Liberation Sans", sans-serif'>7</text>
<text x="210.4" y="287.9" font-size="5.0" fill="#e24a4a" text-anchor="middle" font-family='"Liberation Sans", sans-serif'>8</text>
<text x="201.8" y="289.6" font-size="5.0" fill="#e24a4a" text-anchor="middle" font-family='"Liberation Sans", sans-serif'>9</text>
<text x="193.2" y="287.9" font-size="5.0" fill="#e24a4a" text-anchor="middle" font-family='"Liberation Sans", sans-serif'>10</text>
<text x="185.8" y="283.0" font-size="5.0" fill="#e24a4a" text-anchor="middle" font-family='"Liberation Sans", sans-serif'>11</text>
<text x="180.9" y="275.6" font-size="5.0" fill="#e24a4a" text-anchor="middle" font-family='"Liberation Sans", sans-serif'>12</text>
<text x="179.2" y="267.0" font-size="5.0" fill="#e24a4a" text-anchor="middle" font-family='"Liberation Sans", sans-serif'>13</text>
<text x="180.9" y="258.4" font-size="5.0" fill="#e24a4a" text-anchor="middle" font-family='"Liberation Sans", sans-serif'>14</text>
<text x="185.8" y="251.0" font-size="5.0" fill="#e24a4a" text-anchor="middle" font-family='"Liberation Sans", sans-serif'>15</text>
<text x="193.2" y="246.1" font-size="5.0" fill="#e24a4a" text-anchor="middle" font-family='"Liberation Sans", sans-serif'>16</text>
<line x1="201.8" y1="265.2" x2="201.8" y2="237.2" stroke="#111" stroke-width="1"/>
<polygon points="201.8,234.0 203.70000000000002,237.2 199.9,237.2" fill="#111"/>
<line x1="201.8" y1="265.2" x2="229.8" y2="265.2" stroke="#111" stroke-width="1"/>
<polygon points="232.8,265.2 229.60000000000002,263.3 229.60000000000002,267.09999999999997" fill="#111"/>
<circle cx="201.8" cy="265.2" r="1.3" fill="#000"/>
<text x="199.20000000000002" y="236.0" font-size="6.0" fill="#2a2a2a" text-anchor="end" font-family="Liberation Serif, serif">[mm],<tspan font-style="italic" font-family="Liberation Serif, serif" font-size="6.2">y</tspan></text>
<text x="232.10000000000002" y="271.4" font-size="6.4" fill="#222" text-anchor="middle" font-family="Liberation Serif, serif" font-style="italic">x</text>
<text x="233.0" y="276.9" font-size="6.0" fill="#2a2a2a" text-anchor="middle" font-family="Liberation Serif, serif">[mm]</text>
<line x1="164.5" y1="249.8" x2="206.97" y2="264.29" stroke="#000" stroke-width="1.35"/>
<polygon points="210.00,265.32 206.48,265.71 207.45,262.87" fill="#000"/>
<circle cx="211.7" cy="265.9" r="1.5" fill="#e00000"/>
</g>
<text x="373.2" y="264.5" font-size="10.3" fill="#111" textLength="49.5" lengthAdjust="spacingAndGlyphs">Position-4</text>
<text x="381.3" y="277.6" font-size="10.3" fill="#111" textLength="32.3" lengthAdjust="spacingAndGlyphs">(-20,0)</text>
<g>
<circle cx="456.9" cy="264.8" r="24.9" fill="url(#gOuter)"/>
<circle cx="456.9" cy="264.8" r="19.6" fill="none" stroke="#e0d81a" stroke-width="1.15"/>
<circle cx="456.9" cy="264.8" r="18.95" fill="#50546a"/>
<circle cx="456.9" cy="264.8" r="18.4" fill="#9b9893"/>
<circle cx="456.9" cy="264.8" r="17.1" fill="none" stroke="#5f564c" stroke-width="1.3" stroke-dasharray="2.6 4.115" stroke-dashoffset="1.3" transform="rotate(-90 456.9 264.8)"/>
<circle cx="456.9" cy="264.8" r="15.8" fill="url(#gInner)"/>
<circle cx="456.9" cy="264.8" r="12.5" fill="none" stroke="#7e7b76" stroke-width="0.8" opacity="0.7"/>
<circle cx="451.9" cy="260.8" r="3" fill="#7f8c92" opacity="0.45"/>
<rect x="452.2" y="250.4" width="9.2" height="8.2" fill="#f1e7a8" stroke="#a89658" stroke-width="0.6"/>
<rect x="453.0" y="272.3" width="9.0" height="7.0" fill="#f1e7a8" stroke="#a89658" stroke-width="0.6"/>
<text x="456.9" y="244.0" font-size="5.0" fill="#e24a4a" text-anchor="middle" font-family='"Liberation Sans", sans-serif'>1</text>
<text x="465.5" y="245.7" font-size="5.0" fill="#e24a4a" text-anchor="middle" font-family='"Liberation Sans", sans-serif'>2</text>
<text x="472.9" y="250.6" font-size="5.0" fill="#e24a4a" text-anchor="middle" font-family='"Liberation Sans", sans-serif'>3</text>
<text x="477.8" y="258.0" font-size="5.0" fill="#e24a4a" text-anchor="middle" font-family='"Liberation Sans", sans-serif'>4</text>
<text x="479.5" y="266.6" font-size="5.0" fill="#e24a4a" text-anchor="middle" font-family='"Liberation Sans", sans-serif'>5</text>
<text x="477.8" y="275.2" font-size="5.0" fill="#e24a4a" text-anchor="middle" font-family='"Liberation Sans", sans-serif'>6</text>
<text x="472.9" y="282.6" font-size="5.0" fill="#e24a4a" text-anchor="middle" font-family='"Liberation Sans", sans-serif'>7</text>
<text x="465.5" y="287.5" font-size="5.0" fill="#e24a4a" text-anchor="middle" font-family='"Liberation Sans", sans-serif'>8</text>
<text x="456.9" y="289.2" font-size="5.0" fill="#e24a4a" text-anchor="middle" font-family='"Liberation Sans", sans-serif'>9</text>
<text x="448.3" y="287.5" font-size="5.0" fill="#e24a4a" text-anchor="middle" font-family='"Liberation Sans", sans-serif'>10</text>
<text x="440.9" y="282.6" font-size="5.0" fill="#e24a4a" text-anchor="middle" font-family='"Liberation Sans", sans-serif'>11</text>
<text x="436.0" y="275.2" font-size="5.0" fill="#e24a4a" text-anchor="middle" font-family='"Liberation Sans", sans-serif'>12</text>
<text x="434.3" y="266.6" font-size="5.0" fill="#e24a4a" text-anchor="middle" font-family='"Liberation Sans", sans-serif'>13</text>
<text x="436.0" y="258.0" font-size="5.0" fill="#e24a4a" text-anchor="middle" font-family='"Liberation Sans", sans-serif'>14</text>
<text x="440.9" y="250.6" font-size="5.0" fill="#e24a4a" text-anchor="middle" font-family='"Liberation Sans", sans-serif'>15</text>
<text x="448.3" y="245.7" font-size="5.0" fill="#e24a4a" text-anchor="middle" font-family='"Liberation Sans", sans-serif'>16</text>
<line x1="456.9" y1="264.8" x2="456.9" y2="236.8" stroke="#111" stroke-width="1"/>
<polygon points="456.9,233.60000000000002 458.79999999999995,236.8 455.0,236.8" fill="#111"/>
<line x1="456.9" y1="264.8" x2="484.9" y2="264.8" stroke="#111" stroke-width="1"/>
<polygon points="487.9,264.8 484.7,262.90000000000003 484.7,266.7" fill="#111"/>
<circle cx="456.9" cy="264.8" r="1.3" fill="#000"/>
<text x="454.29999999999995" y="235.60000000000002" font-size="6.0" fill="#2a2a2a" text-anchor="end" font-family="Liberation Serif, serif">[mm],<tspan font-style="italic" font-family="Liberation Serif, serif" font-size="6.2">y</tspan></text>
<text x="487.2" y="271.0" font-size="6.4" fill="#222" text-anchor="middle" font-family="Liberation Serif, serif" font-style="italic">x</text>
<text x="488.09999999999997" y="276.5" font-size="6.0" fill="#2a2a2a" text-anchor="middle" font-family="Liberation Serif, serif">[mm]</text>
<line x1="419.7" y1="272.3" x2="442.47" y2="266.28" stroke="#000" stroke-width="1.35"/>
<polygon points="445.56,265.46 442.85,267.73 442.08,264.83" fill="#000"/>
<circle cx="447.3" cy="265.0" r="1.5" fill="#e00000"/>
</g>
</svg>
</body></html>
